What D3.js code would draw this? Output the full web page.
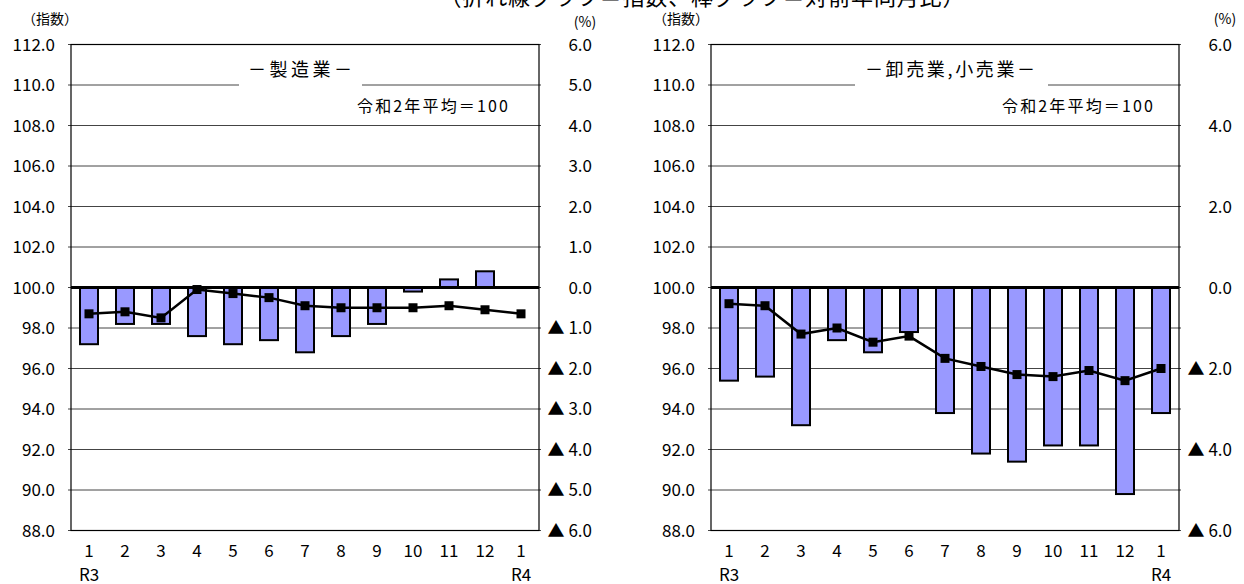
<!DOCTYPE html>
<meta charset="utf-8">
<style>
    body { margin: 0; background: #fff; }
    svg text { font-family: "Noto Sans CJK JP", "Noto Sans", sans-serif; fill: #000; }
</style>
<body>
<script src="https://cdn.jsdelivr.net/npm/d3@7"></script>
<script>
    /* data */
    var months = ["1", "2", "3", "4", "5", "6", "7", "8", "9", "10", "11", "12", "1"];
    var eraLabels = ["R3", "", "", "", "", "", "", "", "", "", "", "", "R4"];
    var indexTicks = [88, 90, 92, 94, 96, 98, 100, 102, 104, 106, 108, 110, 112];

    // 製造業
    var mfgIndex = [98.7, 98.8, 98.5, 99.9, 99.7, 99.5, 99.1, 99.0, 99.0, 99.0, 99.1, 98.9, 98.7];
    var mfgYoY = [-1.4, -0.9, -0.9, -1.2, -1.4, -1.3, -1.6, -1.2, -0.9, -0.1, 0.2, 0.4, null];
    var mfgPctTicks = [6, 5, 4, 3, 2, 1, 0, -1, -2, -3, -4, -5, -6];

    // 卸売業,小売業
    var tradeIndex = [99.2, 99.1, 97.7, 98.0, 97.3, 97.6, 96.5, 96.1, 95.7, 95.6, 95.9, 95.4, 96.0];
    var tradeYoY = [-2.3, -2.2, -3.4, -1.3, -1.6, -1.1, -3.1, -4.1, -4.3, -3.9, -3.9, -5.1, -3.1];
    var tradePctTicks = [6, 4, 2, 0, -2, -4, -6];

    var W = 1244, H = 584;
    var plotTop = 44.5, plotBottom = 530.5;

    var svg = d3.select("body").append("svg")
        .attr("width", W)
        .attr("height", H);

    svg.append("rect").attr("width", W).attr("height", H).attr("fill", "#fff");

    /* overall caption, cut off at the top of the picture */
    svg.append("text")
        .attr("x", 702)
        .attr("y", 5)
        .attr("text-anchor", "middle")
        .attr("font-size", 22)
        .attr("textLength", 525)
        .attr("lengthAdjust", "spacing")
        .text("（折れ線グラフ＝指数、棒グラフ＝対前年同月比）");

    var fmtPct = function (v) {
        return v < 0 ? "▲ " + Math.abs(v).toFixed(1) : v.toFixed(1);
    };

    function drawPanel(p) {
        var g = svg.append("g");

        var xScale = d3.scaleBand()
            .domain(d3.range(months.length))
            .range([p.left, p.right])
            .paddingInner(0.5)
            .paddingOuter(0.25);

        var yScale = d3.scaleLinear().domain([88, 112]).range([plotBottom, plotTop]);
        var pScale = d3.scaleLinear().domain([-6, 6]).range([plotBottom, plotTop]);

        var cx = function (i) { return xScale(i) + xScale.bandwidth() / 2; };

        // grid lines
        g.selectAll(".grid")
            .data(indexTicks)
            .enter()
            .append("line")
            .attr("x1", p.left - 3)
            .attr("x2", p.right + 2)
            .attr("y1", function (d) { return yScale(d); })
            .attr("y2", function (d) { return yScale(d); })
            .attr("stroke", "#444")
            .attr("stroke-width", 1);

        // plot border
        g.append("rect")
            .attr("x", p.left)
            .attr("y", plotTop)
            .attr("width", p.right - p.left)
            .attr("height", plotBottom - plotTop)
            .attr("fill", "none")
            .attr("stroke", "#000")
            .attr("stroke-width", 1.2);

        // left axis labels
        g.selectAll(".yl")
            .data(indexTicks)
            .enter()
            .append("text")
            .attr("x", p.left - 16)
            .attr("y", function (d) { return yScale(d); })
            .attr("dy", "0.36em")
            .attr("text-anchor", "end")
            .attr("font-size", 17)
            .text(function (d) { return d.toFixed(1); });

        // right axis labels
        g.selectAll(".yr")
            .data(p.pctTicks)
            .enter()
            .append("text")
            .attr("x", p.right + 53)
            .attr("y", function (d) { return pScale(d); })
            .attr("dy", "0.36em")
            .attr("text-anchor", "end")
            .attr("font-size", 17)
            .text(fmtPct);

        g.append("text")
            .attr("x", p.left + p.unitDx)
            .attr("y", 19)
            .attr("dy", "0.36em")
            .attr("text-anchor", "middle")
            .attr("font-size", 14)
            .text("（指数）");

        g.append("text")
            .attr("x", p.right + 46)
            .attr("y", p.pctY)
            .attr("dy", "0.36em")
            .attr("text-anchor", "middle")
            .attr("font-size", 14)
            .text("(%)");

        // month labels
        g.selectAll(".xl")
            .data(months)
            .enter()
            .append("text")
            .attr("x", function (d, i) { return cx(i); })
            .attr("y", 551)
            .attr("dy", "0.36em")
            .attr("text-anchor", "middle")
            .attr("font-size", 17)
            .text(function (d) { return d; });

        g.selectAll(".era")
            .data(eraLabels)
            .enter()
            .append("text")
            .attr("x", function (d, i) { return cx(i); })
            .attr("y", 575)
            .attr("dy", "0.36em")
            .attr("text-anchor", "middle")
            .attr("font-size", 17)
            .text(function (d) { return d; });

        // title box
        g.append("rect")
            .attr("x", p.titleBox[0])
            .attr("y", 56)
            .attr("width", p.titleBox[1] - p.titleBox[0])
            .attr("height", 34)
            .attr("fill", "#fff");

        g.append("text")
            .attr("x", p.titleX)
            .attr("y", 70)
            .attr("dy", "0.36em")
            .attr("text-anchor", "middle")
            .attr("font-size", 18)
            .attr("textLength", p.titleLen)
            .attr("lengthAdjust", "spacing")
            .text(p.title);

        g.append("text")
            .attr("x", p.noteX)
            .attr("y", 106)
            .attr("dy", "0.36em")
            .attr("text-anchor", "start")
            .attr("font-size", 16)
            .attr("textLength", 151)
            .attr("lengthAdjust", "spacing")
            .text("令和2年平均＝100");

        // bars (year-on-year %)
        g.selectAll(".bar")
            .data(p.yoy.map(function (v, i) { return { i: i, v: v }; })
                .filter(function (d) { return d.v !== null; }))
            .enter()
            .append("rect")
            .attr("x", function (d) { return xScale(d.i); })
            .attr("width", xScale.bandwidth())
            .attr("y", function (d) { return Math.min(pScale(d.v), pScale(0)); })
            .attr("height", function (d) { return Math.abs(pScale(d.v) - pScale(0)); })
            .attr("fill", "#9999ff")
            .attr("stroke", "#000")
            .attr("stroke-width", 2);

        // zero line
        g.append("line")
            .attr("x1", p.left)
            .attr("x2", p.right)
            .attr("y1", yScale(100))
            .attr("y2", yScale(100))
            .attr("stroke", "#000")
            .attr("stroke-width", 3);

        // index line
        var lineGenerator = d3.line()
            .x(function (d, i) { return cx(i); })
            .y(function (d) { return yScale(d); });

        g.append("path")
            .attr("d", lineGenerator(p.index))
            .attr("fill", "none")
            .attr("stroke", "#000")
            .attr("stroke-width", 2.5);

        g.selectAll(".pt")
            .data(p.index)
            .enter()
            .append("rect")
            .attr("x", function (d, i) { return cx(i) - 4.5; })
            .attr("y", function (d) { return yScale(d) - 4.5; })
            .attr("width", 9)
            .attr("height", 9)
            .attr("fill", "#000");
    }

    drawPanel({
        left: 71, right: 539,
        index: mfgIndex, yoy: mfgYoY, pctTicks: mfgPctTicks,
        title: "－製造業－", titleX: 300, titleLen: 104, titleBox: [239, 362],
        noteX: 357, unitDx: -21, pctY: 22
    });

    drawPanel({
        left: 711, right: 1179,
        index: tradeIndex, yoy: tradeYoY, pctTicks: tradePctTicks,
        title: "－卸売業,小売業－", titleX: 950, titleLen: 170, titleBox: [855, 1048],
        noteX: 1002, unitDx: -30, pctY: 19
    });
</script>
</body>
